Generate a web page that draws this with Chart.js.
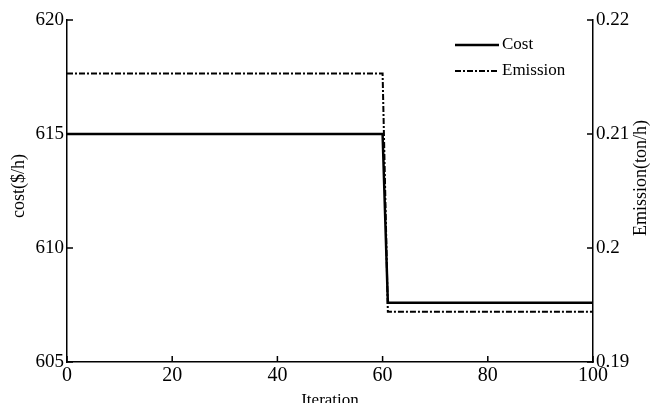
<!DOCTYPE html>
<html>
<head>
<meta charset="utf-8">
<script src="https://cdn.jsdelivr.net/npm/chart.js@4/dist/chart.umd.min.js"></script>
<style>
  html, body { margin: 0; padding: 0; background: #fff; }
  #wrap { width: 650px; height: 403px; }
</style>
</head>
<body>
<div id="wrap"><canvas id="chart" width="650" height="403"></canvas></div>
<script>
// values
const iterations = [0, 60, 61, 100];
const cost = [615, 615, 607.6, 607.6];
const emission = [0.2153, 0.2153, 0.1944, 0.1944];

const iterTicks = [0, 20, 40, 60, 80, 100];
const costTicks = [605, 610, 615, 620];
const costLabels = ['605', '610', '615', '620'];
const emisTicks = [0.19, 0.2, 0.21, 0.22];
const emisLabels = ['0.19', '0.2', '0.21', '0.22'];

const serif = '"Liberation Serif", "Times New Roman", serif';

// inward ticks, axis titles and the legend box in the corner
const decorations = {
    id: 'decorations',
    afterDraw(chart) {
        const ctx = chart.ctx;
        const a = chart.chartArea;
        const sx = chart.scales.x, sy = chart.scales.y, sy1 = chart.scales.y1;
        ctx.save();
        ctx.strokeStyle = '#000';
        ctx.lineWidth = 1.5;
        ctx.beginPath();
        iterTicks.forEach(v => {
            const px = sx.getPixelForValue(v);
            ctx.moveTo(px, a.bottom);
            ctx.lineTo(px, a.bottom - 6);
        });
        costTicks.forEach(v => {
            const py = sy.getPixelForValue(v);
            ctx.moveTo(a.left, py);
            ctx.lineTo(a.left + 6, py);
        });
        emisTicks.forEach(v => {
            const py = sy1.getPixelForValue(v);
            ctx.moveTo(a.right, py);
            ctx.lineTo(a.right - 6, py);
        });
        ctx.stroke();

        // titles
        ctx.fillStyle = '#000';
        ctx.font = '18px ' + serif;
        ctx.textAlign = 'center';
        ctx.textBaseline = 'middle';
        ctx.save();
        ctx.translate(19, 186);
        ctx.rotate(-Math.PI / 2);
        ctx.fillText('cost($/h)', 0, 0);
        ctx.restore();
        ctx.save();
        ctx.translate(641, 178);
        ctx.rotate(-Math.PI / 2);
        ctx.fillText('Emission(ton/h)', 0, 0);
        ctx.restore();

        ctx.font = '17px ' + serif;
        ctx.fillText('Iteration', (a.left + a.right) / 2, 401);

        // legend
        ctx.textAlign = 'left';
        const items = chart.data.datasets;
        items.forEach((ds, i) => {
            const y = 45 + i * 26;
            ctx.beginPath();
            ctx.lineWidth = ds.borderWidth;
            ctx.setLineDash(ds.borderDash || []);
            ctx.moveTo(455, y);
            ctx.lineTo(499, y);
            ctx.stroke();
            ctx.setLineDash([]);
            ctx.fillText(ds.label, 502, y);
        });
        ctx.restore();
    }
};

new Chart(document.getElementById('chart'), {
    type: 'line',
    data: {
        datasets: [
            {
                label: 'Cost',
                data: iterations.map((x, i) => ({ x: x, y: cost[i] })),
                yAxisID: 'y',
                borderColor: '#000',
                borderWidth: 2.5,
                pointRadius: 0,
                tension: 0
            },
            {
                label: 'Emission',
                data: iterations.map((x, i) => ({ x: x, y: emission[i] })),
                yAxisID: 'y1',
                borderColor: '#000',
                borderWidth: 2,
                borderDash: [6, 2, 2, 2],
                pointRadius: 0,
                tension: 0
            }
        ]
    },
    options: {
        responsive: false,
        animation: false,
        layout: { padding: { top: 20, left: 0, right: 0, bottom: 0 } },
        plugins: { legend: { display: false }, tooltip: { enabled: false } },
        scales: {
            x: {
                type: 'linear',
                min: 0,
                max: 100,
                afterBuildTicks: s => { s.ticks = iterTicks.map(v => ({ value: v })); },
                afterFit: s => { s.height = 41; },
                grid: { display: false, drawTicks: false },
                border: { display: true, color: '#000', width: 1.5 },
                ticks: { color: '#000', font: { family: serif, size: 20 }, padding: 2, maxRotation: 0 }
            },
            y: {
                position: 'left',
                min: 605,
                max: 620,
                afterBuildTicks: s => { s.ticks = costTicks.map(v => ({ value: v })); },
                afterFit: s => { s.width = 67; },
                grid: { display: false, drawTicks: false },
                border: { display: true, color: '#000', width: 1.5 },
                ticks: {
                    color: '#000', font: { family: serif, size: 19 }, padding: 3,
                    callback: (v, i) => costLabels[i]
                }
            },
            y1: {
                position: 'right',
                min: 0.19,
                max: 0.22,
                afterBuildTicks: s => { s.ticks = emisTicks.map(v => ({ value: v })); },
                afterFit: s => { s.width = 57; },
                grid: { display: false, drawTicks: false },
                border: { display: true, color: '#000', width: 1.5 },
                ticks: {
                    color: '#000', font: { family: serif, size: 19 }, padding: 3,
                    callback: (v, i) => emisLabels[i]
                }
            }
        }
    },
    plugins: [decorations]
});
</script>
</body>
</html>
